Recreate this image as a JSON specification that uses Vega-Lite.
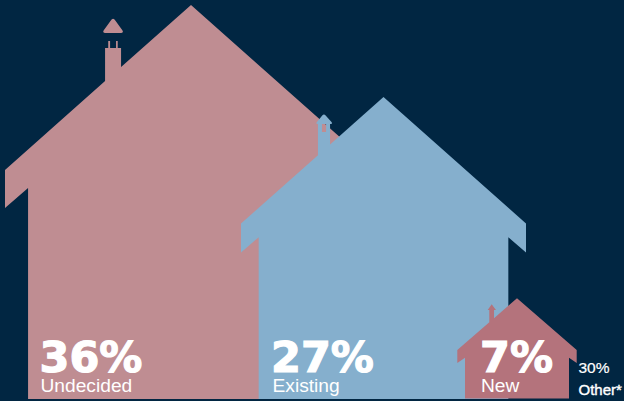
{"$schema":"https://vega.github.io/schema/vega-lite/v6.json","width":624,"height":401,"padding":0,"autosize":{"type":"fit","contains":"padding"},"background":"#012642","config":{"view":{"stroke":null}},"data":{"values":[{"category":"Undecided","share":36,"pct":"36%"},{"category":"Existing","share":27,"pct":"27%"},{"category":"New","share":7,"pct":"7%"},{"category":"Other*","share":30,"pct":"30%"}]},"resolve":{"scale":{"x":"independent","y":"independent","size":"independent"}},"layer":[{"transform":[{"filter":"datum.category !== 'Other*'"}],"mark":{"type":"point","filled":true,"opacity":1,"strokeWidth":0},"encoding":{"x":{"field":"share","type":"quantitative","axis":null,"scale":{"domain":[7,27,36],"range":[517,383.5,191]}},"y":{"field":"share","type":"quantitative","axis":null,"scale":{"domain":[7,27,36],"range":[348.4,248,202]}},"size":{"field":"share","type":"quantitative","legend":null,"scale":{"domain":[7,27,36],"range":[14256,81225,138384]}},"color":{"field":"category","type":"nominal","legend":null,"scale":{"domain":["Undecided","Existing","New"],"range":["#BF8D92","#85AFCD","#B4737C"]}},"shape":{"field":"category","type":"nominal","legend":null,"scale":{"domain":["Undecided","Existing","New"],"range":["M0,-1.059 L1,-.172 L1,.032 L.876,-.075 L.876,1.059 L-.876,1.059 L-.876,-.075 L-1,.032 L-1,-.172 L-.462,-.651 L-.462,-.828 L-.445,-.828 L-.445,-.866 L-.435,-.866 L-.435,-.828 L-.403,-.828 L-.403,-.866 L-.394,-.866 L-.394,-.828 L-.376,-.828 L-.376,-.726 Z M-.432,-.975 Q-.419,-.995 -.406,-.975 L-.370,-.925 Q-.360,-.909 -.375,-.909 L-.463,-.909 Q-.478,-.909 -.468,-.925 Z","M0,-1.06 L1,-.172 L1,.032 L.876,-.075 L.876,1.06 L-.876,1.06 L-.876,-.075 L-1,.032 L-1,-.172 L-.46,-.651 L-.46,-.87 L-.432,-.87 L-.432,-.814 L-.403,-.814 L-.403,-.87 L-.375,-.87 L-.375,-.726 Z M-.43,-.93 Q-.418,-.945 -.406,-.93 L-.365,-.885 Q-.355,-.87 -.37,-.87 L-.462,-.87 Q-.477,-.87 -.467,-.885 Z","M0,-.839 L1,.027 L1,.245 L.871,.156 L.871,.839 L-.871,.839 L-.871,.156 L-1,.245 L-1,.027 L-.464,-.437 L-.464,-.643 L-.491,-.643 L-.424,-.739 L-.352,-.643 L-.385,-.643 L-.385,-.506 Z"]}}}},{"transform":[{"filter":"datum.category !== 'Other*'"}],"mark":{"type":"text","align":"left","baseline":"alphabetic","font":"DejaVu Sans","fontWeight":"bold","fontSize":43,"color":"#FFFFFF","stroke":"#FFFFFF","strokeWidth":1.2},"encoding":{"x":{"field":"share","type":"quantitative","axis":null,"scale":{"domain":[7,27,36],"range":[480,271,39.5]}},"y":{"field":"share","type":"quantitative","axis":null,"scale":{"domain":[7,27,36],"range":[371.5,371.5,372]}},"text":{"field":"pct","type":"nominal"}}},{"transform":[{"filter":"datum.category === 'Other*'"}],"mark":{"type":"text","align":"left","baseline":"alphabetic","font":"Liberation Sans","fontSize":15.5,"color":"#FFFFFF","stroke":"#FFFFFF","strokeWidth":0.2},"encoding":{"x":{"field":"share","type":"quantitative","axis":null,"scale":{"domain":[30,36],"range":[578.5,578.5]}},"y":{"field":"share","type":"quantitative","axis":null,"scale":{"domain":[30,36],"range":[373,373]}},"text":{"field":"pct","type":"nominal"}}},{"transform":[{"filter":"datum.category !== 'Other*'"}],"mark":{"type":"text","align":"left","baseline":"alphabetic","font":"Liberation Sans","fontSize":19.2,"color":"#FFFFFF"},"encoding":{"x":{"field":"share","type":"quantitative","axis":null,"scale":{"domain":[7,27,36],"range":[481,272.5,40.5]}},"y":{"field":"share","type":"quantitative","axis":null,"scale":{"domain":[7,27,36],"range":[391.5,391.5,391.5]}},"text":{"field":"category","type":"nominal"}}},{"transform":[{"filter":"datum.category === 'Other*'"}],"mark":{"type":"text","align":"left","baseline":"alphabetic","font":"Liberation Sans","fontSize":15,"color":"#FFFFFF","stroke":"#FFFFFF","strokeWidth":0.4},"encoding":{"x":{"field":"share","type":"quantitative","axis":null,"scale":{"domain":[30,36],"range":[578.5,578.5]}},"y":{"field":"share","type":"quantitative","axis":null,"scale":{"domain":[30,36],"range":[395,395]}},"text":{"field":"category","type":"nominal"}}}]}
